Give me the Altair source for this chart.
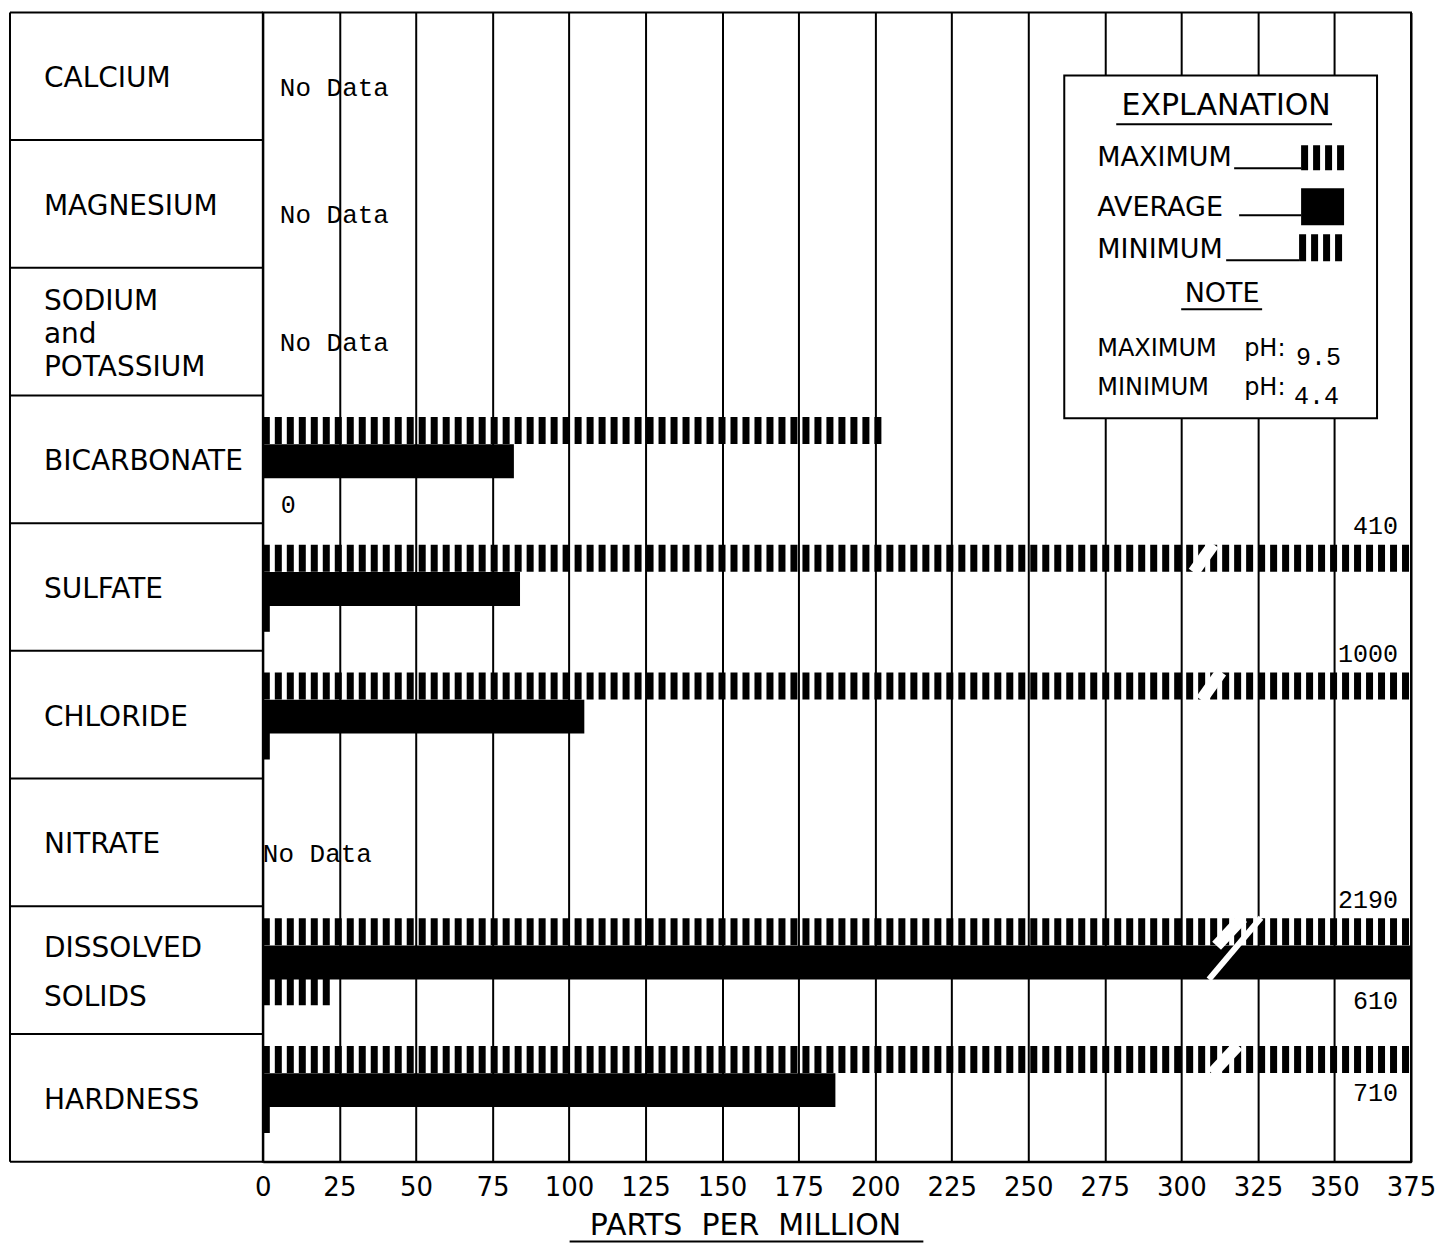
import altair as alt
import pandas as pd

# ---------------- data ----------------
elements = ["CALCIUM", "MAGNESIUM", "SODIUM and POTASSIUM", "BICARBONATE",
            "SULFATE", "CHLORIDE", "NITRATE", "DISSOLVED SOLIDS", "HARDNESS"]
element_labels = ["CALCIUM", "MAGNESIUM", "SODIUM\nand\nPOTASSIUM", "BICARBONATE",
                  "SULFATE", "CHLORIDE", "NITRATE", "DISSOLVED\nSOLIDS", "HARDNESS"]
maximum = [None, None, None, 203, 410, 1000, None, 2190, 710]
average = [None, None, None, 82, 84, 105, None, 610, 187]
minimum = [None, None, None, 0, 3, 3, None, 22, 3]
x_ticks = [0, 25, 50, 75, 100, 125, 150, 175, 200, 225, 250, 275, 300, 325, 350, 375]
ph_max = "9.5"
ph_min = "4.4"

# ---------------- style / layout ----------------
AXIS_MAX = 375
W, H = 1149, 1150
NROWS = len(elements)
ROW_PX = H / NROWS
SANS = "DejaVu Sans"
MONO = "Liberation Mono"
STYLE = {
    "max": {"off": 0.275, "width": 27, "dash": [7, 5]},
    "avg": {"off": 0.515, "width": 34, "dash": None},
    "min": {"off": 0.745, "width": 27, "dash": [7, 5]},
}
ROW_SHIFT = {"DISSOLVED SOLIDS": -0.075, "HARDNESS": -0.075}
LABEL_SHIFT = {("SULFATE", "max"): -0.25, ("CHLORIDE", "max"): -0.25,
               ("DISSOLVED SOLIDS", "max"): -0.25, ("HARDNESS", "max"): 0.26,
               ("DISSOLVED SOLIDS", "avg"): 0.3}
# break marks on bars that run off the scale: (element, kind, x_low, x_high, stroke)
BREAKS = [("SULFATE", "max", 304.0, 310.5, 12),
          ("CHLORIDE", "max", 306.5, 313.0, 12),
          ("HARDNESS", "max", 310.0, 318.5, 12),
          ("DISSOLVED SOLIDS", "max", 311.5, 320.0, 12),
          ("DISSOLVED SOLIDS", "span", 309.0, 326.0, 6)]
NODATA_DX = {"NITRATE": 0}
LINE_HEIGHT = {"DISSOLVED SOLIDS": 49}

XS = alt.Scale(domain=[0, AXIS_MAX], nice=False, zero=True)
YS = alt.Scale(domain=[0, NROWS], nice=False, zero=True, reverse=True)
XA = alt.Axis(values=x_ticks, grid=True, gridColor="black", gridWidth=2, gridOpacity=1,
              domainColor="black", domainWidth=2, ticks=False, tickSize=0,
              labelFont=SANS, labelFontSize=26, labelColor="black", labelPadding=26,
              labelBaseline="middle", labelFlush=False, labelOverlap=False, labelBound=False,
              title=None)


def X(f):
    return alt.X(f, type="quantitative", scale=XS, axis=XA)


def Y(f):
    return alt.Y(f, type="quantitative", scale=YS, axis=None)


# ---------------- tables ----------------
recs = []
for i, el in enumerate(elements):
    for s, vals in (("max", maximum), ("avg", average), ("min", minimum)):
        v = vals[i]
        if v is None:
            continue
        recs.append(dict(element=el, series=s, value=v, base=0,
                         shown=min(v, AXIS_MAX),
                         y=i + STYLE[s]["off"] + ROW_SHIFT.get(el, 0.0)))
bars = pd.DataFrame(recs)

ylook = {(r.element, r.series): r.y for r in bars.itertuples()}

over = bars[bars["value"] > AXIS_MAX].copy()
over["ly"] = [r.y + LABEL_SHIFT.get((r.element, r.series), -0.25) for r in over.itertuples()]
over["txt"] = over["value"].astype(int).astype(str)
over["xr"] = AXIS_MAX

zero = bars[bars["value"] == 0].copy()
zero["txt"] = "0"
zero["ly"] = zero["y"] + 0.11

brk = []
for el, kind, xa, xb, sw in BREAKS:
    if kind == "max":
        yc = ylook[(el, "max")]
        y_lo, y_hi = yc + 14 / ROW_PX, yc - 14 / ROW_PX
    else:
        y_lo = ylook[(el, "avg")] + 17 / ROW_PX
        y_hi = ylook[(el, "max")] - 14 / ROW_PX
    brk.append(dict(x=xa, x2=xb, y=y_lo, y2=y_hi, sw=sw))
brk = pd.DataFrame(brk)

nodata = pd.DataFrame([dict(element=el, y=i + 0.59, base=0, txt="No Data",
                            dx=NODATA_DX.get(el, 17))
                       for i, el in enumerate(elements)
                       if maximum[i] is None and average[i] is None and minimum[i] is None])

labels = pd.DataFrame(dict(label=element_labels, element=elements,
                           y=[i + 0.5 + 3 / ROW_PX for i in range(NROWS)]))
labels["lh"] = labels["element"].map(lambda e: LINE_HEIGHT.get(e, 33))
labels["nl"] = labels["label"].map(lambda t: t.count("\n") + 1)
bounds = pd.DataFrame(dict(b=list(range(NROWS + 1))))
one = pd.DataFrame({"k": [0]})

# ---------------- layers ----------------
layers = []

for s in ("max", "avg", "min"):
    st = STYLE[s]
    kw = dict(color="black", strokeWidth=st["width"], strokeCap="butt")
    if st["dash"]:
        kw["strokeDash"] = st["dash"]
    layers.append(alt.Chart(bars[bars["series"] == s]).mark_rule(**kw).encode(
        x=X("base"), x2="shown:Q", y=Y("y")))

layers.append(alt.Chart(brk).mark_rule(color="white", strokeCap="butt").encode(
    x=X("x"), x2="x2:Q", y=Y("y"), y2="y2:Q",
    strokeWidth=alt.StrokeWidth("sw:Q", scale=None)))

layers.append(alt.Chart(over).mark_text(align="right", baseline="middle", dx=-13,
                                        font=MONO, fontSize=25, color="black").encode(
    x=X("xr"), y=Y("ly"), text="txt:N"))
layers.append(alt.Chart(zero).mark_text(align="left", baseline="middle", dx=18,
                                        font=MONO, fontSize=25, color="black").encode(
    x=X("base"), y=Y("ly"), text="txt:N"))

for dxv, grp in nodata.groupby("dx"):
    layers.append(alt.Chart(grp).mark_text(align="left", baseline="middle", dx=int(dxv),
                                           font=MONO, fontSize=26, color="black").encode(
        x=X("base"), y=Y("y"), text="txt:N"))


def ptext(s, x, y, size, font=SANS, align="left"):
    return alt.Chart(one).mark_text(text=s, font=font, fontSize=size, align=align,
                                    baseline="middle", color="black").encode(
        x=alt.value(x), y=alt.value(y))


def prule(x, x2, y, y2=None, width=2, dash=None, color="black"):
    kw = dict(color=color, strokeWidth=width, strokeCap="butt")
    if dash:
        kw["strokeDash"] = dash
    enc = dict(x=alt.value(x), x2=alt.value(x2), y=alt.value(y))
    if y2 is not None:
        enc["y2"] = alt.value(y2)
    return alt.Chart(one).mark_rule(**kw).encode(**enc)


# explanation box
layers.append(alt.Chart(one).mark_rect(fill="white", stroke="black", strokeWidth=2).encode(
    x=alt.value(802), x2=alt.value(1115), y=alt.value(63), y2=alt.value(406)))
layers += [
    ptext("EXPLANATION", 964, 94, 30, align="center"),
    prule(854, 1070, 112),
    ptext("MAXIMUM", 835, 146, 27),
    prule(972, 1039, 156),
    prule(1039, 1082, 145.5, width=25, dash=[7, 5]),
    ptext("AVERAGE", 835, 196, 27),
    prule(977, 1039, 203),
    alt.Chart(one).mark_rect(fill="black").encode(
        x=alt.value(1039), x2=alt.value(1082), y=alt.value(176), y2=alt.value(213)),
    ptext("MINIMUM", 835, 238, 27),
    prule(964, 1037, 248),
    prule(1037, 1080, 235.5, width=27, dash=[7, 5]),
    ptext("NOTE", 960, 282, 27, align="center"),
    prule(919, 1000, 297),
    ptext("MAXIMUM", 835, 337, 24),
    ptext("pH:", 982, 337, 24),
    ptext(ph_max, 1034, 345, 25, font=MONO),
    ptext("MINIMUM", 835, 376, 24),
    ptext("pH:", 982, 376, 24),
    ptext(ph_min, 1032, 384, 25, font=MONO),
]

# axis title (underlined)
layers += [
    ptext("PARTS\u00a0\u00a0PER\u00a0\u00a0MILLION", 483, 1214, 30, align="center"),
    prule(307, 661, 1230),
]

# left label column
layers.append(alt.Chart(bounds).mark_rule(color="black", strokeWidth=2).encode(
    x=alt.value(-253), x2=alt.value(0), y=Y("b")))
layers.append(prule(-253, -253, 0, 1150))
for (lh, nl), grp in labels.groupby(["lh", "nl"]):
    layers.append(alt.Chart(grp).mark_text(align="left", baseline="middle", font=SANS,
                                           fontSize=28, color="black", lineBreak="\n",
                                           lineHeight=int(lh),
                                           dy=-(int(nl) - 1) * int(lh) / 2).encode(
        x=alt.value(-219), y=Y("y"), text="label:N"))

chart = alt.layer(*layers).properties(
    width=W, height=H,
    padding={"left": 1, "top": 3, "right": 6, "bottom": 2},
    background="white",
).configure_view(stroke="black", strokeWidth=2)

chart.save("out.html", embed_options={"renderer": "svg", "actions": False})
